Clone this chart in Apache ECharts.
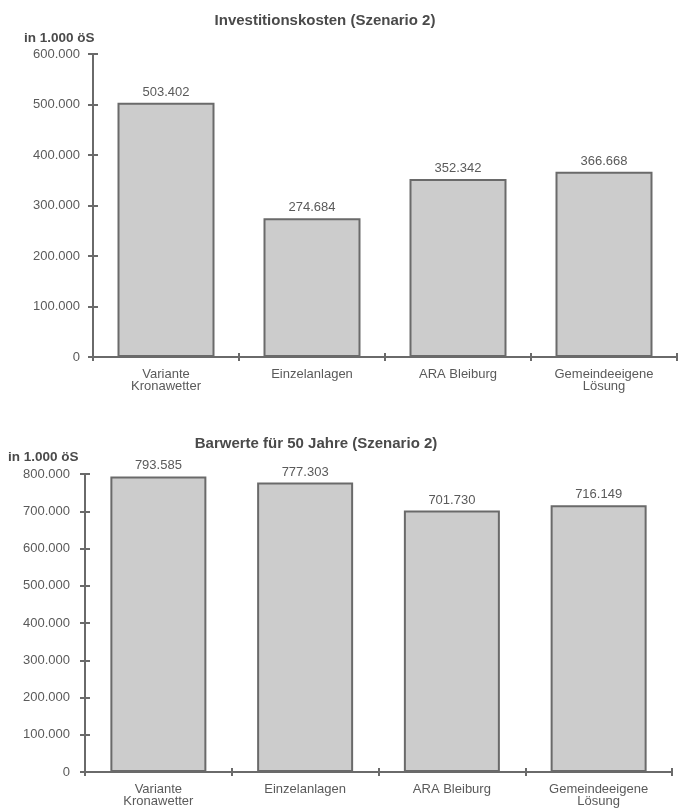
<!DOCTYPE html>
<html>
<head>
<meta charset="utf-8">
<script src="https://cdn.jsdelivr.net/npm/echarts@6/dist/echarts.min.js"></script>
<style>
html,body{margin:0;padding:0;background:#fff;}
#c{width:678px;height:812px;}
</style>
</head>
<body>
<div id="c"></div>
<script>
// ---- data ----
const categories = ['Variante\nKronawetter', 'Einzelanlagen', 'ARA Bleiburg', 'Gemeindeeigene\nLösung'];
const investitionskosten = [503402, 274684, 352342, 366668];
const barwerte = [793585, 777303, 701730, 716149];
const title1 = 'Investitionskosten (Szenario 2)';
const title2 = 'Barwerte für 50 Jahre (Szenario 2)';
const unitLabel = 'in 1.000 öS';
const yMax1 = 600000, yMax2 = 800000, yStep = 100000;

function fmt(v) {
  return String(Math.round(v)).replace(/\B(?=(\d{3})+(?!\d))/g, '.');
}

const FONT = '"Liberation Sans", Arial, sans-serif';
const TXT = '#5a5a5a';
const AX = '#6a6a6a';

function xAxes(gi) {
  return [
    {
      type: 'category', gridIndex: gi, data: categories, position: 'bottom',
      boundaryGap: true,
      axisLine: { lineStyle: { color: AX, width: 2 } },
      axisTick: { show: true, length: 4, lineStyle: { color: AX, width: 2 } },
      axisLabel: { color: TXT, fontFamily: FONT, fontSize: 13, lineHeight: 12, margin: 11, interval: 0 }
    },
    {
      type: 'category', gridIndex: gi, data: categories, position: 'bottom',
      boundaryGap: true,
      axisLine: { show: false },
      axisTick: { show: true, inside: true, length: 4, lineStyle: { color: AX, width: 2 } },
      axisLabel: { show: false }
    }
  ];
}
function yAxes(gi, max, margin) {
  return [
    {
      type: 'value', gridIndex: gi, min: 0, max: max, interval: yStep, position: 'left',
      splitLine: { show: false },
      axisLine: { show: true, lineStyle: { color: AX, width: 2 } },
      axisTick: { show: true, length: 5, lineStyle: { color: AX, width: 2 } },
      axisLabel: { color: TXT, fontFamily: FONT, fontSize: 13, margin: margin, padding: [4, 0, 0, 0], formatter: fmt }
    },
    {
      type: 'value', gridIndex: gi, min: 0, max: max, interval: yStep, position: 'left',
      splitLine: { show: false },
      axisLine: { show: false },
      axisTick: { show: true, inside: true, length: 5, lineStyle: { color: AX, width: 2 } },
      axisLabel: { show: false }
    }
  ];
}
function barSeries(data, xi, yi, bw) {
  return {
    type: 'bar', xAxisIndex: xi, yAxisIndex: yi, data: data, barWidth: bw,
    itemStyle: { color: '#cccccc', borderColor: AX, borderWidth: 2 },
    label: { show: true, position: 'top', distance: 4, color: TXT, fontFamily: FONT, fontSize: 13,
      formatter: p => fmt(p.value) },
    silent: true, animation: false
  };
}

const chart = echarts.init(document.getElementById('c'), null, { renderer: 'canvas' });
chart.setOption({
  animation: false,
  backgroundColor: '#fff',
  grid: [
    { left: 93, top: 54, width: 584, height: 303 },
    { left: 85, top: 474, width: 587, height: 298 }
  ],
  xAxis: [...xAxes(0), ...xAxes(1)],
  yAxis: [...yAxes(0, yMax1, 13), ...yAxes(1, yMax2, 15)],
  series: [
    barSeries(investitionskosten, 0, 0, 97),
    barSeries(barwerte, 2, 2, 96)
  ],
  graphic: [
    { type: 'text', x: 325, y: 21, style: { text: title1, fill: '#4a4a4a', font: 'bold 15px ' + FONT, textAlign: 'center', textVerticalAlign: 'middle' } },
    { type: 'text', x: 316, y: 444, style: { text: title2, fill: '#4a4a4a', font: 'bold 15px ' + FONT, textAlign: 'center', textVerticalAlign: 'middle' } },
    { type: 'text', x: 24, y: 38, style: { text: unitLabel, fill: '#4a4a4a', font: 'bold 13.5px ' + FONT, textAlign: 'left', textVerticalAlign: 'middle' } },
    { type: 'text', x: 8, y: 457, style: { text: unitLabel, fill: '#4a4a4a', font: 'bold 13.5px ' + FONT, textAlign: 'left', textVerticalAlign: 'middle' } }
  ]
});
</script>
</body>
</html>
